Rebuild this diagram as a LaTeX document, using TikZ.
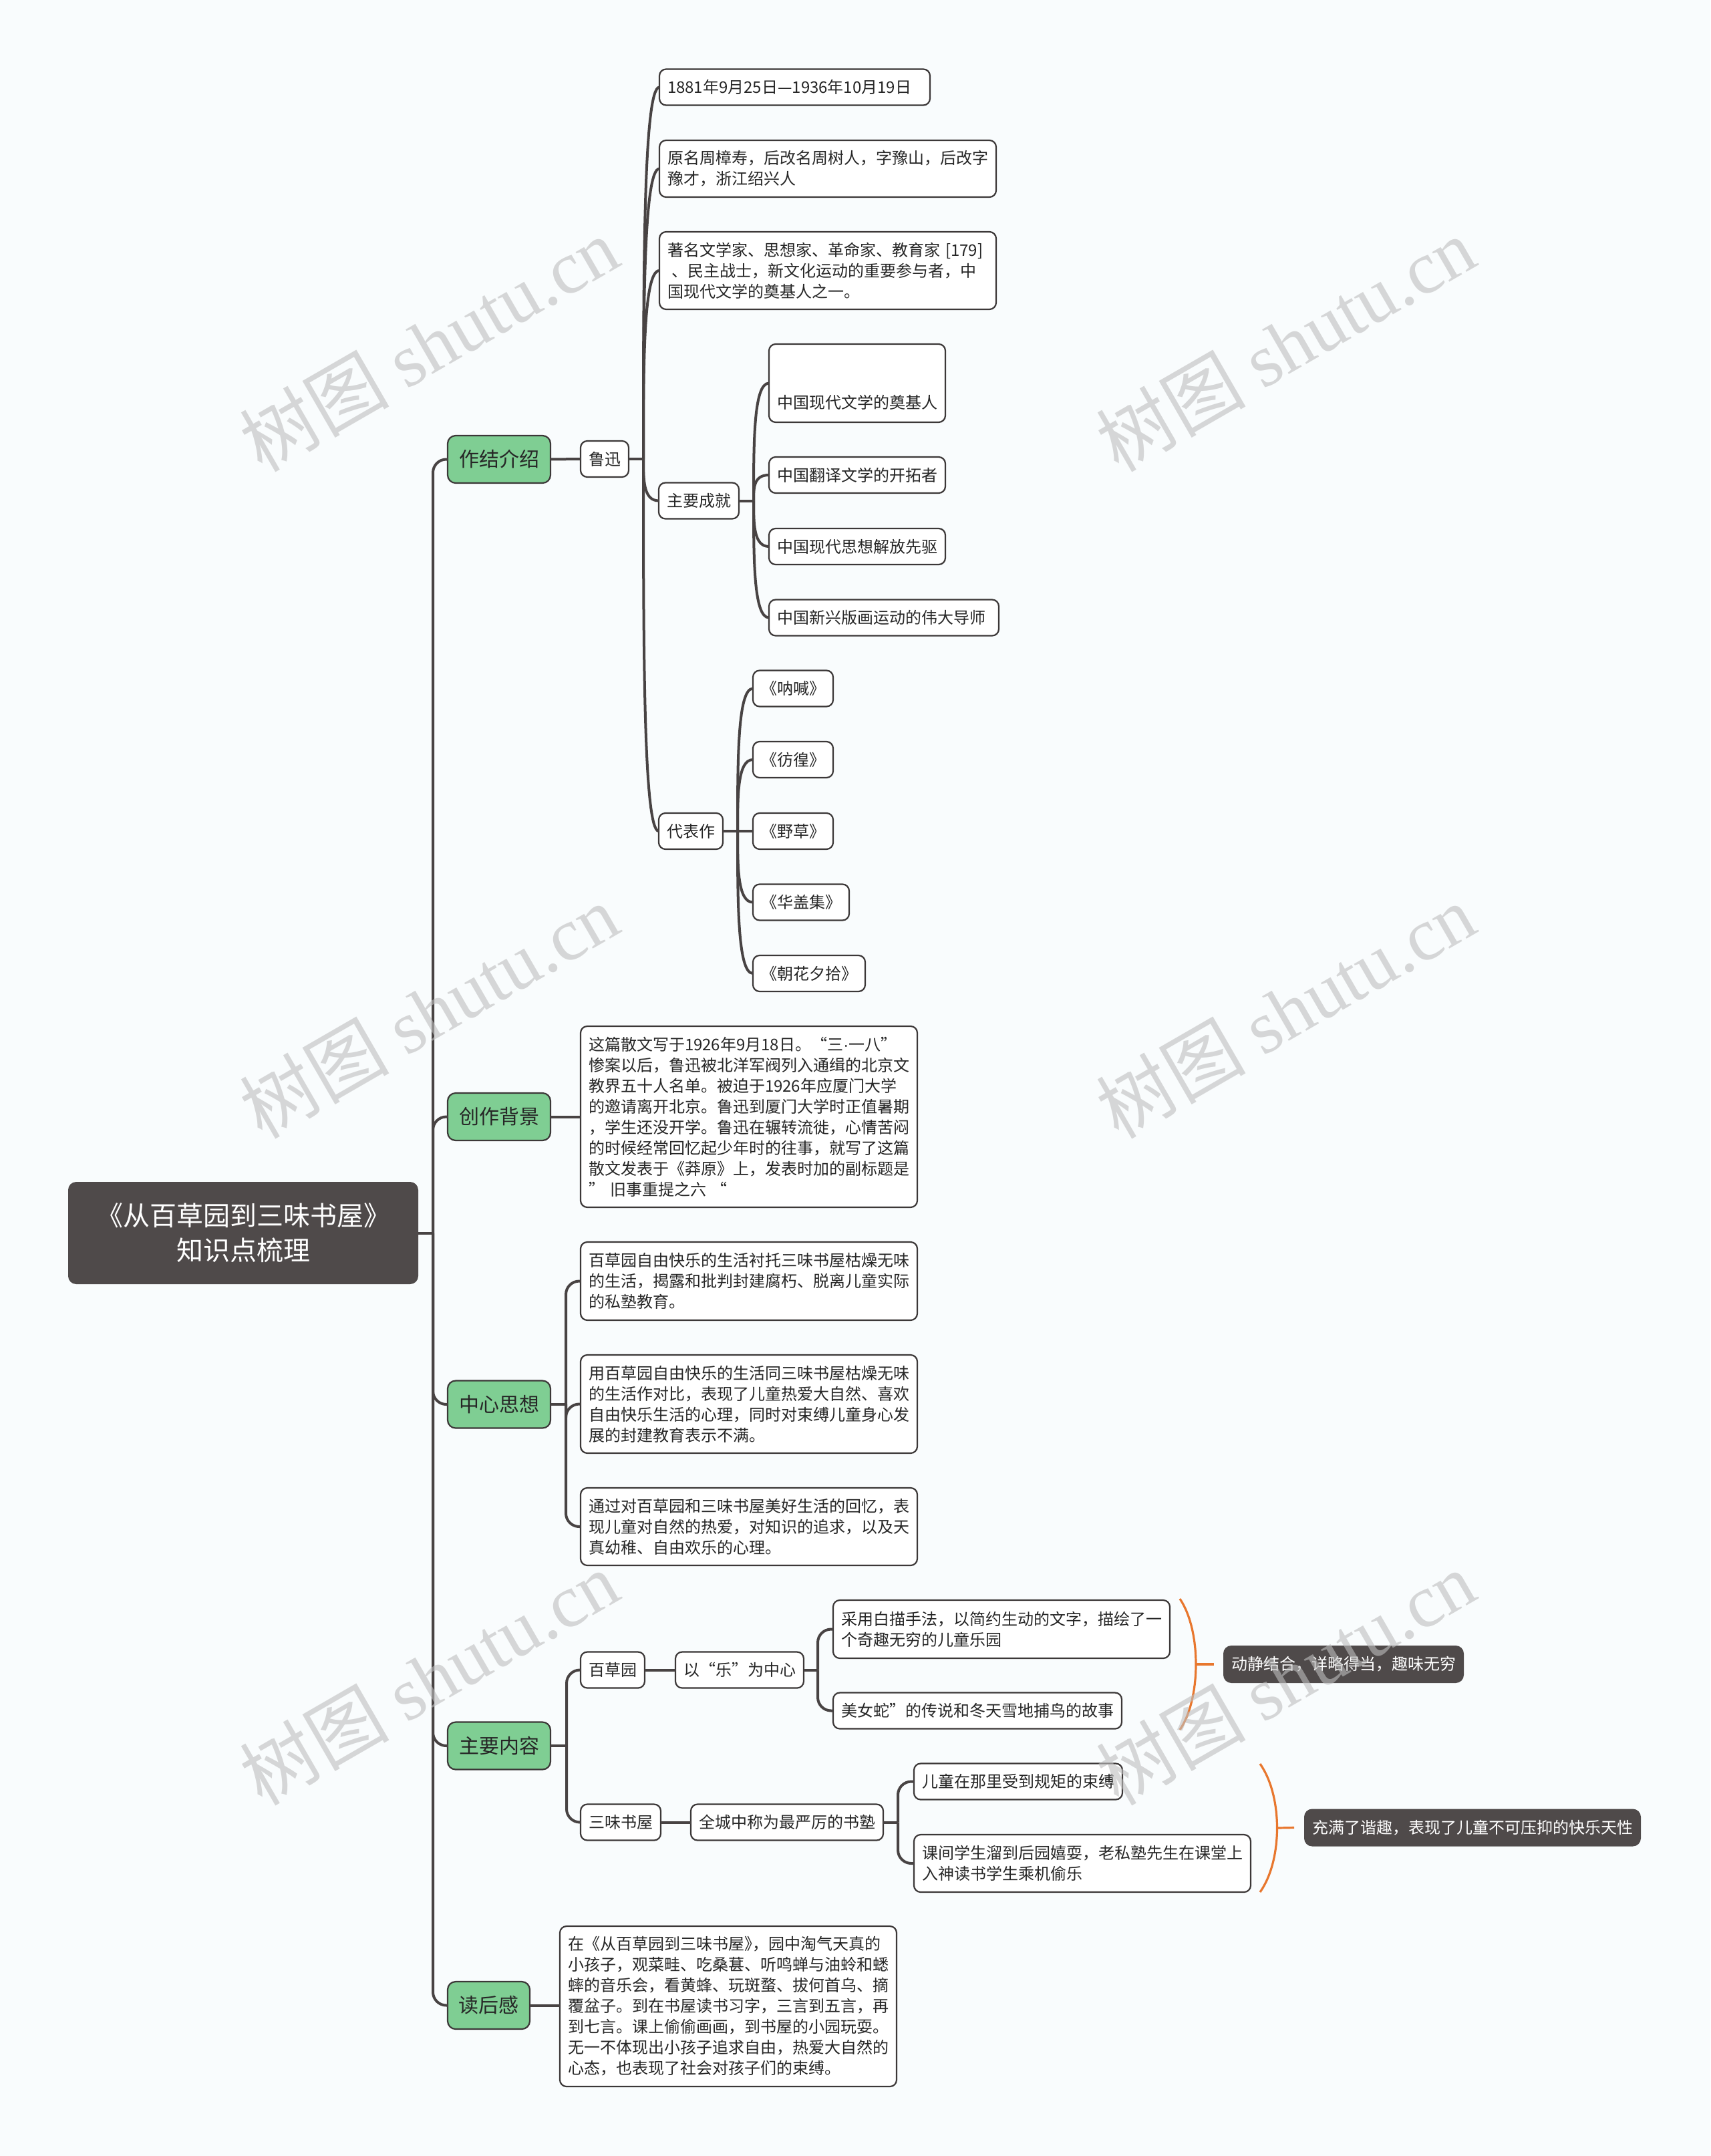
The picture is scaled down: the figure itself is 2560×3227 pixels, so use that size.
\documentclass[tikz,border=0pt]{standalone}
\usepackage{fontspec}
\setmainfont{Noto Sans CJK SC}
\newfontfamily\wmserif{Liberation Serif}
\newfontfamily\narrowsans{Liberation Sans}
\usetikzlibrary{calc}
\definecolor{bgc}{RGB}{249,252,253}
\definecolor{linec}{RGB}{72,67,67}
\definecolor{bordc}{RGB}{60,56,56}
\definecolor{greenc}{RGB}{127,206,147}
\definecolor{darkc}{RGB}{79,74,74}
\definecolor{orangec}{RGB}{232,119,46}
\definecolor{txtc}{RGB}{38,38,38}
\definecolor{wmc}{RGB}{190,190,190}
\newcommand{\mmcurve}[2]{\draw[conn] (#1) .. controls ($(#1)!0.5!(#1 |- #2.west)$) and (#1 |- #2.west) .. (#2.west);}
\begin{document}
\begin{tikzpicture}[x=0.5pt,y=-0.5pt,
 box/.style={draw=bordc,line width=1.1pt,fill=white,rounded corners=5pt,inner xsep=6pt,inner ysep=0pt,minimum height=27pt,anchor=west,outer sep=0pt,text=txtc,font=\fontsize{12}{15.5}\selectfont},
 mbox/.style={box,text width=240pt,align=left},
 lone/.style={draw=bordc,line width=1.1pt,fill=greenc,rounded corners=6pt,minimum width=77pt,minimum height=35.5pt,anchor=west,outer sep=0pt,inner xsep=0pt,text=txtc,font=\fontsize{15}{18}\selectfont},
 darkbox/.style={fill=darkc,rounded corners=6pt,text=white,inner xsep=6pt,inner ysep=0pt,minimum height=28pt,anchor=west,outer sep=0pt,font=\fontsize{12}{15.5}\selectfont},
 conn/.style={draw=linec,line width=2pt},
 rconn/.style={conn,rounded corners=10pt},
 brk/.style={draw=orangec,line width=1.6pt},
 wm/.style={text=wmc,opacity=0.6,rotate=30,font=\fontsize{56}{64}\selectfont}
]
\fill[bgc] (0,0) rectangle (2560,3227);
\useasboundingbox (0,0) rectangle (2560,3227);

% root and level 1
\node[fill=darkc,rounded corners=6pt,minimum width=262pt,minimum height=76.5pt,align=center,text=white,font=\fontsize{20}{26}\selectfont,anchor=west,outer sep=0pt] (root) at (102,1845.5) {《从百草园到三味书屋》\\知识点梳理};
\node[lone] (l1) at (670,687.5) {作结介绍};
\node[lone] (l2) at (670,1671.5) {创作背景};
\node[lone] (l3) at (670,2102) {中心思想};
\node[lone] (l4) at (670,2613) {主要内容};
\node[lone,minimum width=61.5pt] (l5) at (670,3001.5) {读后感};

% 作结介绍
\node[box] (lx) at (869,687) {鲁迅};
\node[box,text width=190.5pt,align=left] (d1) at (987,130.5) {1881年9月25日—1936年10月19日};
\node[mbox,minimum height=42.5pt] (d2) at (987,252.5) {原名周樟寿，后改名周树人，字豫山，后改字\\豫才，浙江绍兴人};
\node[mbox,minimum height=58pt] (d3) at (987,405) {著名文学家、思想家、革命家、教育家 [179]\\\hspace*{3pt}、民主战士，新文化运动的重要参与者，中\\国现代文学的奠基人之一。};
\node[box] (d4) at (986,749.5) {主要成就};
\node[box] (d5) at (986,1244) {代表作};
\node[box,anchor=north west,text height=42pt,text depth=4.5pt,inner ysep=6pt] (a1) at (1151,515) {中国现代文学的奠基人};
\node[box] (a2) at (1151,711) {中国翻译文学的开拓者};
\node[box] (a3) at (1151,818) {中国现代思想解放先驱};
\node[box,text width=160pt,align=left] (a4) at (1151,924.5) {中国新兴版画运动的伟大导师};
\node[box] (w1) at (1127,1030.5) {《呐喊》};
\node[box] (w2) at (1127,1137) {《彷徨》};
\node[box] (w3) at (1127,1244) {《野草》};
\node[box] (w4) at (1127,1350.5) {《华盖集》};
\node[box] (w5) at (1127,1457) {《朝花夕拾》};

% 创作背景
\node[mbox,minimum height=135.5pt] (bg) at (869,1671.5) {这篇散文写于1926年9月18日。“三{\narrowsans ·}一八”\\惨案以后，鲁迅被北洋军阀列入通缉的北京文\\教界五十人名单。被迫于1926年应厦门大学\\的邀请离开北京。鲁迅到厦门大学时正值暑期\\，学生还没开学。鲁迅在辗转流徙，心情苦闷\\的时候经常回忆起少年时的往事，就写了这篇\\散文发表于《莽原》上，发表时加的副标题是\\” 旧事重提之六 “};

% 中心思想
\node[mbox,minimum height=58.5pt] (c1) at (869,1917.5) {百草园自由快乐的生活衬托三味书屋枯燥无味\\的生活，揭露和批判封建腐朽、脱离儿童实际\\的私塾教育。};
\node[mbox,minimum height=73.5pt] (c2) at (869,2101.5) {用百草园自由快乐的生活同三味书屋枯燥无味\\的生活作对比，表现了儿童热爱大自然、喜欢\\自由快乐生活的心理，同时对束缚儿童身心发\\展的封建教育表示不满。};
\node[mbox,minimum height=58pt] (c3) at (869,2285) {通过对百草园和三味书屋美好生活的回忆，表\\现儿童对自然的热爱，对知识的追求，以及天\\真幼稚、自由欢乐的心理。};

% 主要内容
\node[box] (m1) at (869,2499.5) {百草园};
\node[box] (m2) at (1011,2499.5) {以“乐”为中心};
\node[mbox,minimum height=43.5pt] (m3) at (1247,2438.5) {采用白描手法，以简约生动的文字，描绘了一\\个奇趣无穷的儿童乐园};
\node[box] (m4) at (1247,2560.5) {美女蛇”的传说和冬天雪地捕鸟的故事};
\node[box] (m5) at (869,2727.5) {三味书屋};
\node[box] (m6) at (1034,2727.5) {全城中称为最严厉的书塾};
\node[box] (m7) at (1368,2666.5) {儿童在那里受到规矩的束缚};
\node[mbox,minimum height=43pt] (m8) at (1368,2789) {课间学生溜到后园嬉耍，老私塾先生在课堂上\\入神读书学生乘机偷乐};
\node[darkbox] (s1) at (1831,2491) {动静结合，详略得当，趣味无穷};
\node[darkbox] (s2) at (1952,2735.5) {充满了谐趣，表现了儿童不可压抑的快乐天性};

% 读后感
\node[mbox,minimum height=120pt] (r1) at (838,3003) {在《从百草园到三味书屋》\kern-6pt，园中淘气天真的\\小孩子，观菜畦、吃桑葚、听鸣蝉与油蛉和蟋\\蟀的音乐会，看黄蜂、玩斑蝥、拔何首乌、摘\\覆盆子。到在书屋读书习字，三言到五言，再\\到七言。课上偷偷画画，到书屋的小园玩耍。\\无一不体现出小孩子追求自由，热爱大自然的\\心态，也表现了社会对孩子们的束缚。};

% connectors: trunk
\coordinate (tj) at (648,1845.5);
\draw[conn] (root.east) -- (tj);
\foreach \n in {l1,l2,l3,l4,l5} \draw[rconn] (tj) |- (\n.west);

% 作结介绍 branch
\draw[conn] (l1.east) -- (lx.west);
\coordinate (j1) at (963,687);
\draw[conn] (lx.east) -- (j1);
\mmcurve{j1}{d1}
\mmcurve{j1}{d2}
\mmcurve{j1}{d3}
\mmcurve{j1}{d4}
\mmcurve{j1}{d5}
\coordinate (ja) at (1128,749.5);
\draw[conn] (d4.east) -- (ja);
\mmcurve{ja}{a1}
\mmcurve{ja}{a2}
\mmcurve{ja}{a3}
\mmcurve{ja}{a4}
\coordinate (jb) at (1104,1244);
\draw[conn] (d5.east) -- (jb);
\mmcurve{jb}{w1}
\mmcurve{jb}{w2}
\draw[conn] (jb) -- (w3.west);
\mmcurve{jb}{w4}
\mmcurve{jb}{w5}

% 创作背景
\draw[conn] (l2.east) -- (l2.east -| bg.west);

% 中心思想
\coordinate (jc) at (847,2102);
\draw[conn] (l3.east) -- (jc);
\foreach \n in {c1,c2,c3} \draw[rconn] (jc) |- (\n.west);

% 主要内容
\coordinate (jd) at (848,2613);
\draw[conn] (l4.east) -- (jd);
\foreach \n in {m1,m5} \draw[rconn] (jd) |- (\n.west);
\draw[conn] (m1.east) -- (m2.west);
\coordinate (je) at (1224,2499.5);
\draw[conn] (m2.east) -- (je);
\foreach \n in {m3,m4} \draw[rconn] (je) |- (\n.west);
\draw[conn] (m5.east) -- (m6.west);
\coordinate (jf) at (1344,2727.5);
\draw[conn] (m6.east) -- (jf);
\foreach \n in {m7,m8} \draw[rconn] (jf) |- (\n.west);

% summaries
\coordinate (b1t) at (1766,2393);
\coordinate (b1b) at (1766,2589);
\coordinate (b1m) at (1790,2491);
\draw[brk] (b1t) .. controls (1798,2440) and (1798,2542) .. (b1b);
\draw[brk] (b1m) -- ([xshift=-7pt]s1.west);
\coordinate (b2t) at (1886,2640);
\coordinate (b2b) at (1886,2832);
\coordinate (b2m) at (1911.5,2736);
\draw[brk] (b2t) .. controls (1920,2688) and (1920,2784) .. (b2b);
\draw[brk] (b2m) -- ([xshift=-7.5pt]s2.west);

% 读后感
\draw[conn] (l5.east) -- (l5.east -| r1.west);

% watermarks
\foreach \wx/\wy in {642/515,1924/515,642/1513,1924/1513,642/2511,1924/2511}
  \node[wm] at (\wx,\wy) {树图 {\wmserif shutu.cn}};
\end{tikzpicture}
\end{document}
